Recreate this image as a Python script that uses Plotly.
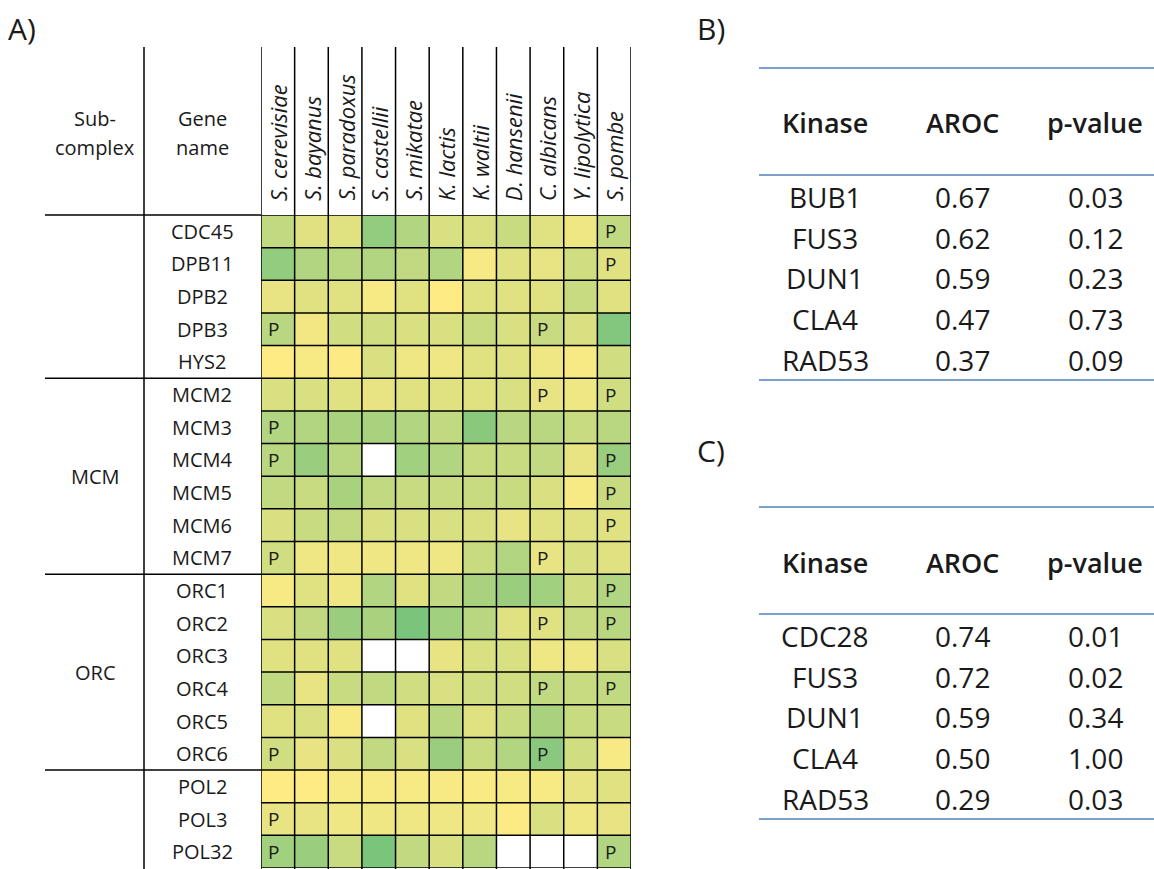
import plotly.graph_objects as go

W, H = 1154, 869

# ---------------- data ----------------
species = ["S. cerevisiae", "S. bayanus", "S. paradoxus", "S. castellii", "S. mikatae",
           "K. lactis", "K. waltii", "D. hansenii", "C. albicans", "Y. lipolytica", "S. pombe"]

genes = ["CDC45", "DPB11", "DPB2", "DPB3", "HYS2",
         "MCM2", "MCM3", "MCM4", "MCM5", "MCM6", "MCM7",
         "ORC1", "ORC2", "ORC3", "ORC4", "ORC5", "ORC6",
         "POL2", "POL3", "POL32"]

subcomplex_names = ["", "MCM", "ORC", ""]
subcomplex_sizes = [5, 6, 6, 3]

N = None
scores = [
    [0.40, 0.20, 0.20, 0.70, 0.50, 0.25, 0.25, 0.35, 0.20, 0.10, 0.40],  # CDC45
    [0.70, 0.50, 0.45, 0.50, 0.40, 0.50, 0.05, 0.20, 0.15, 0.30, 0.20],  # DPB11
    [0.15, 0.20, 0.20, 0.05, 0.20, 0.00, 0.20, 0.20, 0.20, 0.35, 0.20],  # DPB2
    [0.45, 0.08, 0.30, 0.30, 0.25, 0.25, 0.35, 0.25, 0.35, 0.25, 0.80],  # DPB3
    [0.00, 0.05, 0.02, 0.25, 0.10, 0.10, 0.20, 0.20, 0.10, 0.05, 0.30],  # HYS2
    [0.25, 0.25, 0.20, 0.15, 0.20, 0.20, 0.20, 0.25, 0.15, 0.10, 0.30],  # MCM2
    [0.50, 0.50, 0.55, 0.55, 0.50, 0.40, 0.75, 0.45, 0.45, 0.35, 0.45],  # MCM3
    [0.45, 0.65, 0.45, N,    0.60, 0.50, 0.35, 0.35, 0.40, 0.15, 0.65],  # MCM4
    [0.40, 0.35, 0.55, 0.40, 0.35, 0.35, 0.35, 0.35, 0.25, 0.05, 0.35],  # MCM5
    [0.25, 0.35, 0.40, 0.25, 0.25, 0.25, 0.25, 0.15, 0.20, 0.20, 0.20],  # MCM6
    [0.30, 0.10, 0.10, 0.10, 0.10, 0.10, 0.35, 0.50, 0.15, 0.25, 0.20],  # MCM7
    [0.05, 0.20, 0.10, 0.50, 0.20, 0.40, 0.55, 0.65, 0.60, 0.30, 0.50],  # ORC1
    [0.25, 0.40, 0.65, 0.55, 0.85, 0.60, 0.45, 0.20, 0.20, 0.35, 0.45],  # ORC2
    [0.20, 0.20, 0.20, N,    N,    0.15, 0.25, 0.25, 0.10, 0.10, 0.25],  # ORC3
    [0.40, 0.15, 0.35, 0.40, 0.30, 0.25, 0.30, 0.30, 0.40, 0.35, 0.40],  # ORC4
    [0.20, 0.25, 0.05, N,    0.20, 0.45, 0.20, 0.35, 0.55, 0.35, 0.35],  # ORC5
    [0.30, 0.15, 0.25, 0.40, 0.25, 0.65, 0.35, 0.50, 0.75, 0.30, 0.05],  # ORC6
    [0.00, 0.00, 0.05, 0.05, 0.05, 0.05, 0.03, 0.05, 0.05, 0.15, 0.20],  # POL2
    [0.15, 0.15, 0.10, 0.10, 0.10, 0.10, 0.10, 0.02, 0.25, 0.10, 0.15],  # POL3
    [0.60, 0.65, 0.35, 0.85, 0.40, 0.25, 0.45, N,    N,    N,    0.50],  # POL32
]

# cells marked "P" (gene, species)
p_marks = [
    ("CDC45", "S. pombe"), ("DPB11", "S. pombe"),
    ("DPB3", "S. cerevisiae"), ("DPB3", "C. albicans"),
    ("MCM2", "C. albicans"), ("MCM2", "S. pombe"),
    ("MCM3", "S. cerevisiae"),
    ("MCM4", "S. cerevisiae"), ("MCM4", "S. pombe"),
    ("MCM5", "S. pombe"), ("MCM6", "S. pombe"),
    ("MCM7", "S. cerevisiae"), ("MCM7", "C. albicans"),
    ("ORC1", "S. pombe"),
    ("ORC2", "C. albicans"), ("ORC2", "S. pombe"),
    ("ORC4", "C. albicans"), ("ORC4", "S. pombe"),
    ("ORC6", "S. cerevisiae"), ("ORC6", "C. albicans"),
    ("POL3", "S. cerevisiae"),
    ("POL32", "S. cerevisiae"), ("POL32", "S. pombe"),
]

table_headers = ["Kinase", "AROC", "p-value"]

b_kinase = ["BUB1", "FUS3", "DUN1", "CLA4", "RAD53"]
b_aroc = [0.67, 0.62, 0.59, 0.47, 0.37]
b_pval = [0.03, 0.12, 0.23, 0.73, 0.09]

c_kinase = ["CDC28", "FUS3", "DUN1", "CLA4", "RAD53"]
c_aroc = [0.74, 0.72, 0.59, 0.50, 0.29]
c_pval = [0.01, 0.02, 0.34, 1.00, 0.03]

# ---------------- helpers ----------------
def px(x):
    return x / W

def py(y):
    return 1 - y / H

FONT = "Open Sans, Lato, sans-serif"
TXT = "#1a1a1a"

fig = go.Figure()

fig.add_trace(go.Heatmap(
    z=scores, x=species, y=genes,
    colorscale=[[0, "#FFEB84"], [1, "#63BE7B"]],
    zmin=0, zmax=1, showscale=False, hoverinfo="skip",
))

shapes = []
annotations = []

def ann(**kw):
    d = dict(showarrow=False, xanchor="center", yanchor="middle")
    d.update(kw)
    annotations.append(d)

n_sp = len(species)
n_g = len(genes)

# vertical grid lines (including header area)
for i in range(n_sp + 1):
    shapes.append(dict(type="line", xref="x", yref="paper", x0=i - 0.5, x1=i - 0.5,
                       y0=py(870), y1=py(47), line=dict(color="black", width=1.5)))
# horizontal grid lines inside heatmap
for j in range(n_g + 1):
    shapes.append(dict(type="line", xref="x", yref="y", x0=-0.5, x1=n_sp - 0.5 + 0.08,
                       y0=j - 0.5, y1=j - 0.5, line=dict(color="black", width=1.5)))

# left structural lines
shapes.append(dict(type="line", xref="paper", yref="paper", x0=px(144), x1=px(144),
                   y0=py(870), y1=py(47), line=dict(color="black", width=1.5)))
shapes.append(dict(type="line", xref="paper", yref="paper", x0=px(45), x1=px(261),
                   y0=py(215), y1=py(215), line=dict(color="black", width=1.5)))

# group separators and labels
start = 0
for name, size in zip(subcomplex_names, subcomplex_sizes):
    end = start + size
    if start > 0:
        shapes.append(dict(type="line", xref="paper", yref="y", x0=px(45), x1=px(261),
                           y0=start - 0.5, y1=start - 0.5, line=dict(color="black", width=1.5)))
    if name:
        ann(text=name, xref="paper", yref="y", x=px(95), y=(start + end - 1) / 2,
            font=dict(size=20, family=FONT, color=TXT))
    start = end

# gene labels
for g in genes:
    ann(text=g, xref="paper", yref="y", x=px(202), y=g,
        font=dict(size=20, family=FONT, color=TXT))

# species labels (rotated)
for s in species:
    ann(text="<i>" + s + "</i>", xref="x", yref="paper", x=s, y=py(203),
        yanchor="bottom", textangle=-90,
        font=dict(size=22, family=FONT, color=TXT))

# P marks
for g, s in p_marks:
    ann(text="P", xref="x", yref="y", x=s, y=g, xshift=-4,
        font=dict(size=19, family=FONT, color=TXT))

# header texts
for txt, yy in (("Sub-", 118), ("complex", 148)):
    ann(text=txt, xref="paper", yref="paper", x=px(95), y=py(yy),
        font=dict(size=20, family=FONT, color=TXT))
for txt, yy in (("Gene", 118), ("name", 148)):
    ann(text=txt, xref="paper", yref="paper", x=px(202), y=py(yy),
        font=dict(size=20, family=FONT, color=TXT))

# panel letters
for txt, xx, yy in (("A)", 22, 28), ("B)", 711, 28), ("C)", 711, 450)):
    ann(text=txt, xref="paper", yref="paper", x=px(xx), y=py(yy),
        font=dict(size=30, family=FONT, color=TXT))

# tables
col_x = [825, 962, 1095]
BLUE = "#4F81BD"

def add_table(top, kinases, arocs, pvals):
    for yy in (top, top + 107, top + 312):
        shapes.append(dict(type="line", xref="paper", yref="paper", x0=px(759), x1=1,
                           y0=py(yy), y1=py(yy), line=dict(color=BLUE, width=1.5)))
    for h, xx in zip(table_headers, col_x):
        ann(text=h, xref="paper", yref="paper", x=px(xx), y=py(top + 55),
            font=dict(size=27, family=FONT, color=TXT, weight=600))
    for k, (kn, a, p) in enumerate(zip(kinases, arocs, pvals)):
        yy = top + 129 + k * 40.7
        for val, xx in zip((kn, f"{a:.2f}", f"{p:.2f}"), col_x):
            ann(text=val, xref="paper", yref="paper", x=px(xx), y=py(yy),
                font=dict(size=28, family=FONT, color=TXT))

add_table(68, b_kinase, b_aroc, b_pval)
add_table(507, c_kinase, c_aroc, c_pval)

fig.update_layout(
    width=W, height=H,
    margin=dict(l=0, r=0, t=0, b=0),
    paper_bgcolor="white", plot_bgcolor="white",
    xaxis=dict(domain=[px(261), px(631)], range=[-0.5, n_sp - 0.5], showticklabels=False,
               showgrid=False, zeroline=False, ticks="", type="category"),
    yaxis=dict(domain=[py(868), py(215)], range=[n_g - 0.5, -0.5], showticklabels=False,
               showgrid=False, zeroline=False, ticks="", type="category"),
    shapes=shapes, annotations=annotations, showlegend=False,
)

fig.write_html("out.html", config={"displayModeBar": False},
               post_script="document.body.style.margin='0';")
